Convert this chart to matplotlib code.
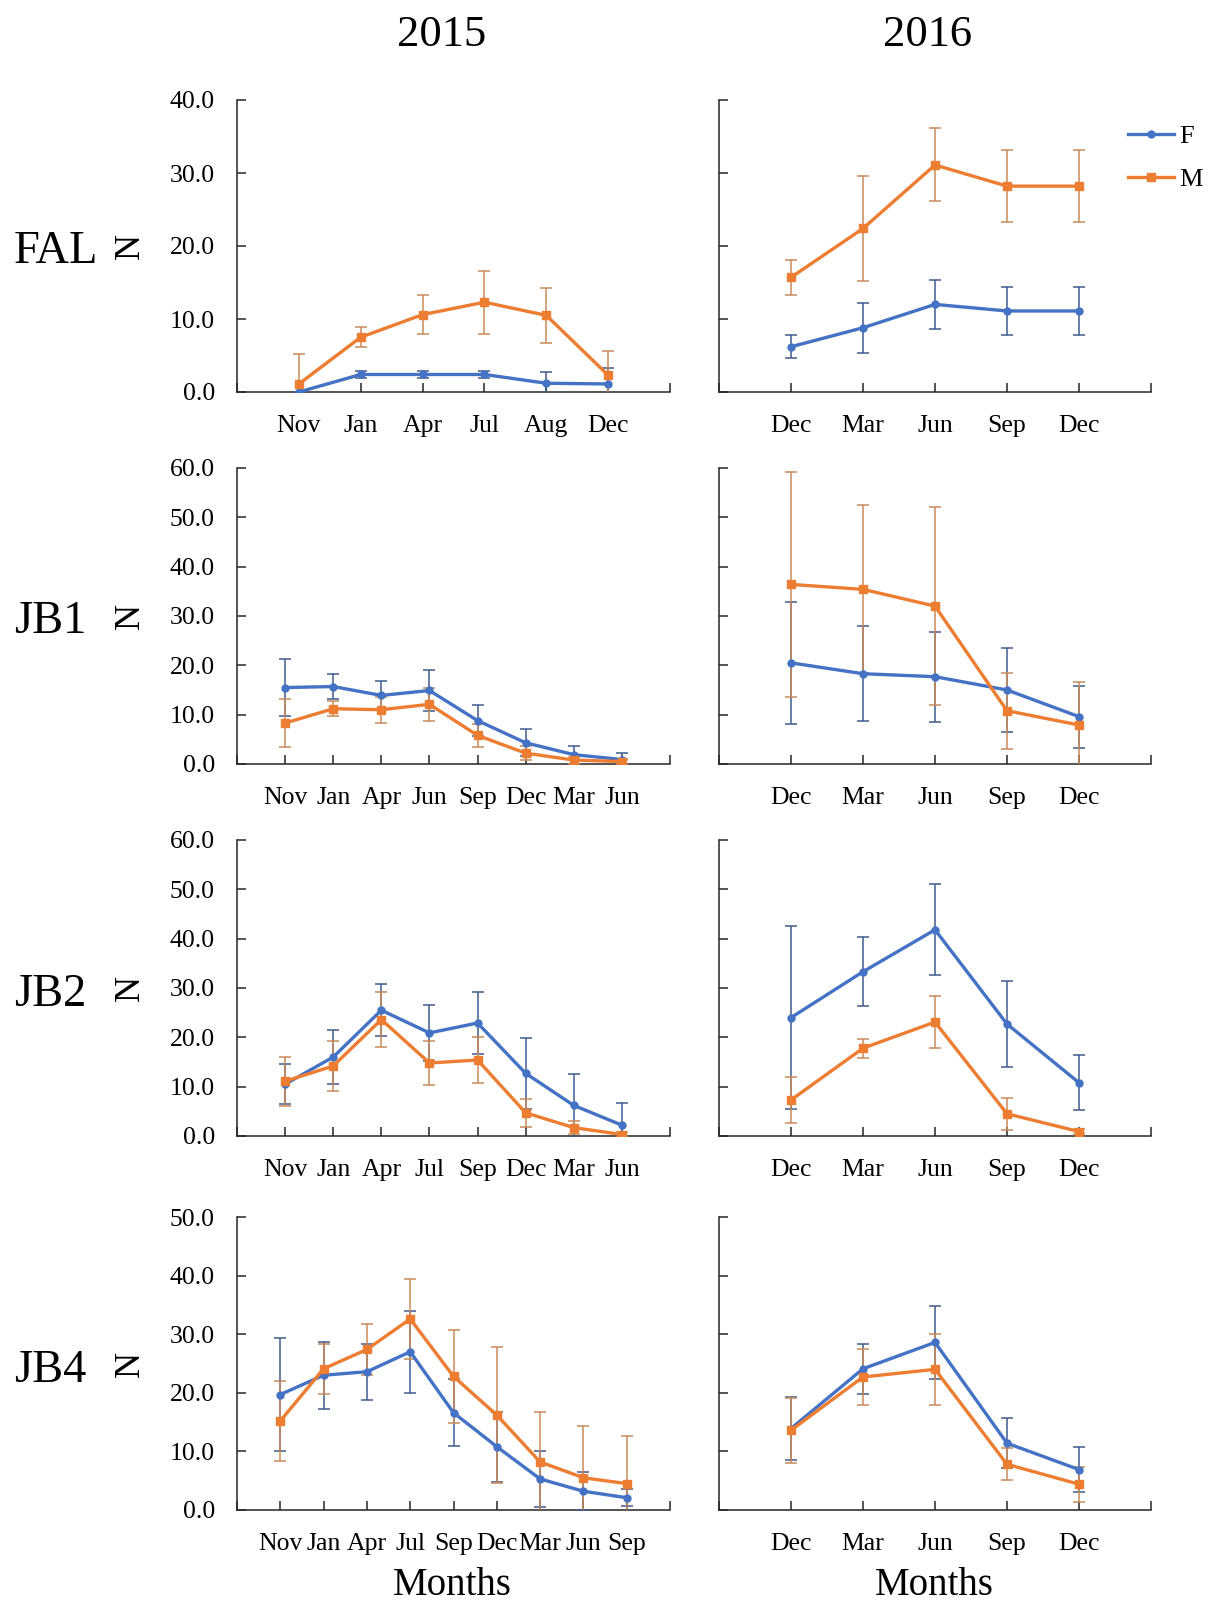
import matplotlib
matplotlib.use("Agg")
import matplotlib.pyplot as plt
from matplotlib.lines import Line2D

plt.rcParams['font.family'] = ['Liberation Serif', 'DejaVu Serif']

# ---------------- data ----------------
site_names = ["FAL", "JB1", "JB2", "JB4"]
years = ["2015", "2016"]

fal15_months = ["Nov", "Jan", "Apr", "Jul", "Aug", "Dec"]
fal15_F = [0.0, 2.4, 2.4, 2.4, 1.2, 1.1]
fal15_F_err = [0.0, 0.5, 0.5, 0.5, 1.5, 2.2]
fal15_M = [1.1, 7.5, 10.6, 12.3, 10.5, 2.3]
fal15_M_err = [4.1, 1.4, 2.7, 4.3, 3.8, 3.3]

fal16_months = ["Dec", "Mar", "Jun", "Sep", "Dec"]
fal16_F = [6.2, 8.8, 12.0, 11.1, 11.1]
fal16_F_err = [1.6, 3.4, 3.4, 3.3, 3.3]
fal16_M = [15.7, 22.4, 31.1, 28.2, 28.2]
fal16_M_err = [2.4, 7.2, 5.0, 4.9, 4.9]

jb1_15_months = ["Nov", "Jan", "Apr", "Jun", "Sep", "Dec", "Mar", "Jun"]
jb1_15_F = [15.5, 15.7, 13.9, 14.9, 8.8, 4.3, 1.9, 0.9]
jb1_15_F_err = [5.8, 2.6, 3.0, 4.1, 3.1, 2.7, 1.8, 1.4]
jb1_15_M = [8.3, 11.2, 11.0, 12.1, 5.8, 2.2, 0.8, 0.5]
jb1_15_M_err = [4.9, 1.5, 2.6, 3.3, 2.3, 1.4, 0.7, 0.5]

jb1_16_months = ["Dec", "Mar", "Jun", "Sep", "Dec"]
jb1_16_F = [20.5, 18.3, 17.7, 15.0, 9.6]
jb1_16_F_err = [12.3, 9.6, 9.1, 8.6, 6.3]
jb1_16_M = [36.4, 35.4, 32.0, 10.8, 7.9]
jb1_16_M_err = [22.8, 17.0, 20.0, 7.7, 8.7]

jb2_15_months = ["Nov", "Jan", "Apr", "Jul", "Sep", "Dec", "Mar", "Jun"]
jb2_15_F = [10.5, 16.0, 25.5, 20.9, 22.9, 12.7, 6.2, 2.2]
jb2_15_F_err = [4.0, 5.4, 5.3, 5.6, 6.2, 7.2, 6.4, 4.4]
jb2_15_M = [11.1, 14.2, 23.6, 14.8, 15.4, 4.7, 1.7, 0.3]
jb2_15_M_err = [5.0, 5.0, 5.5, 4.5, 4.7, 2.8, 1.3, 0.5]

jb2_16_months = ["Dec", "Mar", "Jun", "Sep", "Dec"]
jb2_16_F = [24.0, 33.3, 41.8, 22.7, 10.8]
jb2_16_F_err = [18.6, 7.0, 9.2, 8.8, 5.6]
jb2_16_M = [7.3, 17.8, 23.1, 4.5, 0.9]
jb2_16_M_err = [4.6, 1.9, 5.3, 3.2, 0.5]

jb4_15_months = ["Nov", "Jan", "Apr", "Jul", "Sep", "Dec", "Mar", "Jun", "Sep"]
jb4_15_F = [19.7, 23.0, 23.6, 27.0, 16.6, 10.8, 5.3, 3.2, 2.1]
jb4_15_F_err = [9.6, 5.7, 4.8, 7.0, 5.7, 6.0, 4.8, 3.2, 1.5]
jb4_15_M = [15.2, 24.1, 27.4, 32.6, 22.8, 16.2, 8.2, 5.5, 4.5]
jb4_15_M_err = [6.8, 4.3, 4.4, 6.8, 8.0, 11.6, 8.6, 8.8, 8.1]

jb4_16_months = ["Dec", "Mar", "Jun", "Sep", "Dec"]
jb4_16_F = [13.9, 24.1, 28.6, 11.4, 6.9]
jb4_16_F_err = [5.3, 4.3, 6.2, 4.3, 3.9]
jb4_16_M = [13.6, 22.7, 24.0, 7.8, 4.4]
jb4_16_M_err = [5.5, 4.8, 6.0, 2.7, 3.0]

y_max = [40, 60, 60, 50]

panels = [
    [(fal15_months, fal15_F, fal15_F_err, fal15_M, fal15_M_err),
     (fal16_months, fal16_F, fal16_F_err, fal16_M, fal16_M_err)],
    [(jb1_15_months, jb1_15_F, jb1_15_F_err, jb1_15_M, jb1_15_M_err),
     (jb1_16_months, jb1_16_F, jb1_16_F_err, jb1_16_M, jb1_16_M_err)],
    [(jb2_15_months, jb2_15_F, jb2_15_F_err, jb2_15_M, jb2_15_M_err),
     (jb2_16_months, jb2_16_F, jb2_16_F_err, jb2_16_M, jb2_16_M_err)],
    [(jb4_15_months, jb4_15_F, jb4_15_F_err, jb4_15_M, jb4_15_M_err),
     (jb4_16_months, jb4_16_F, jb4_16_F_err, jb4_16_M, jb4_16_M_err)],
]

# ---------------- style ----------------
W, H = 1213, 1604
BLUE = "#4472C4"
ORANGE = "#ED7D31"
BLUE_ERR = "#3F5D8C"
ORANGE_ERR = "#C98A58"
AX_COL = "#262626"

fig = plt.figure(figsize=(W / 100, H / 100), dpi=100)

col_x = [(237, 670), (719, 1151)]
row_y = [(100, 392), (468, 764), (840, 1136), (1217, 1510)]

def frac_box(x0, x1, y0, y1):
    return [x0 / W, 1 - y1 / H, (x1 - x0) / W, (y1 - y0) / H]

for r in range(4):
    for c in range(2):
        months, F, Ferr, M, Merr = panels[r][c]
        ax = fig.add_axes(frac_box(col_x[c][0], col_x[c][1], row_y[r][0], row_y[r][1]))
        n = len(months)
        xs = list(range(n))
        ax.errorbar(xs, F, yerr=Ferr, color=BLUE, lw=2.4, marker='o', ms=5,
                    ecolor=BLUE_ERR, elinewidth=1.1, capsize=4.5, capthick=1.1, zorder=3)
        ax.errorbar(xs, M, yerr=Merr, color=ORANGE, lw=2.4, marker='s', ms=5.5,
                    ecolor=ORANGE_ERR, elinewidth=1.1, capsize=4.5, capthick=1.1, zorder=3)
        ax.set_xlim(-1, n)
        ax.set_ylim(0, y_max[r])
        ax.set_xticks(list(range(-1, n + 1)))
        ax.set_xticklabels([""] + months + [""])
        ax.set_yticks(list(range(0, y_max[r] + 1, 10)))
        if c == 0:
            ax.set_yticklabels([f"{v:.1f}" for v in range(0, y_max[r] + 1, 10)])
        else:
            ax.set_yticklabels([])
        for s in ["top", "right"]:
            ax.spines[s].set_visible(False)
        for s in ["left", "bottom"]:
            ax.spines[s].set_color(AX_COL)
            ax.spines[s].set_linewidth(1.1)
        ax.tick_params(axis='x', direction='in', length=6.5, width=1.1, color=AX_COL,
                       labelsize=18.5, pad=16.5)
        ax.tick_params(axis='y', direction='in', length=6.5, width=1.1, color=AX_COL,
                       labelsize=18.5, pad=16)

# column titles
title_x = [442, 928]
for c in range(2):
    fig.text(title_x[c] / W, 1 - 46 / H, years[c], fontsize=32, ha='center', va='baseline')

# row labels and N labels
row_baselines = [263, 633, 1006, 1382]
for r in range(4):
    fig.text(14 / W, 1 - row_baselines[r] / H, site_names[r], fontsize=33.5,
             ha='left', va='baseline')
    yc = (row_y[r][0] + row_y[r][1]) / 2
    fig.text(130 / W, 1 - yc / H, "N", fontsize=26, rotation=90,
             ha='center', va='center')

# bottom "Months" labels
months_x = [452, 934]
for c in range(2):
    fig.text(months_x[c] / W, 1 - 1604 / H, "Months", fontsize=28,
             ha='center', va='bottom')

# legend
hF = Line2D([], [], color=BLUE, lw=2.4, marker='o', ms=5)
hM = Line2D([], [], color=ORANGE, lw=2.4, marker='s', ms=5.5)
fig.legend([hF, hM], ["F", "M"], loc='upper left',
           bbox_to_anchor=(1128 / W, 1 - 125 / H), frameon=False, fontsize=19,
           handlelength=1.75, handletextpad=0.2, labelspacing=0.72,
           borderpad=0, borderaxespad=0, markerscale=1.0)

fig.savefig("out.png", dpi=100)
